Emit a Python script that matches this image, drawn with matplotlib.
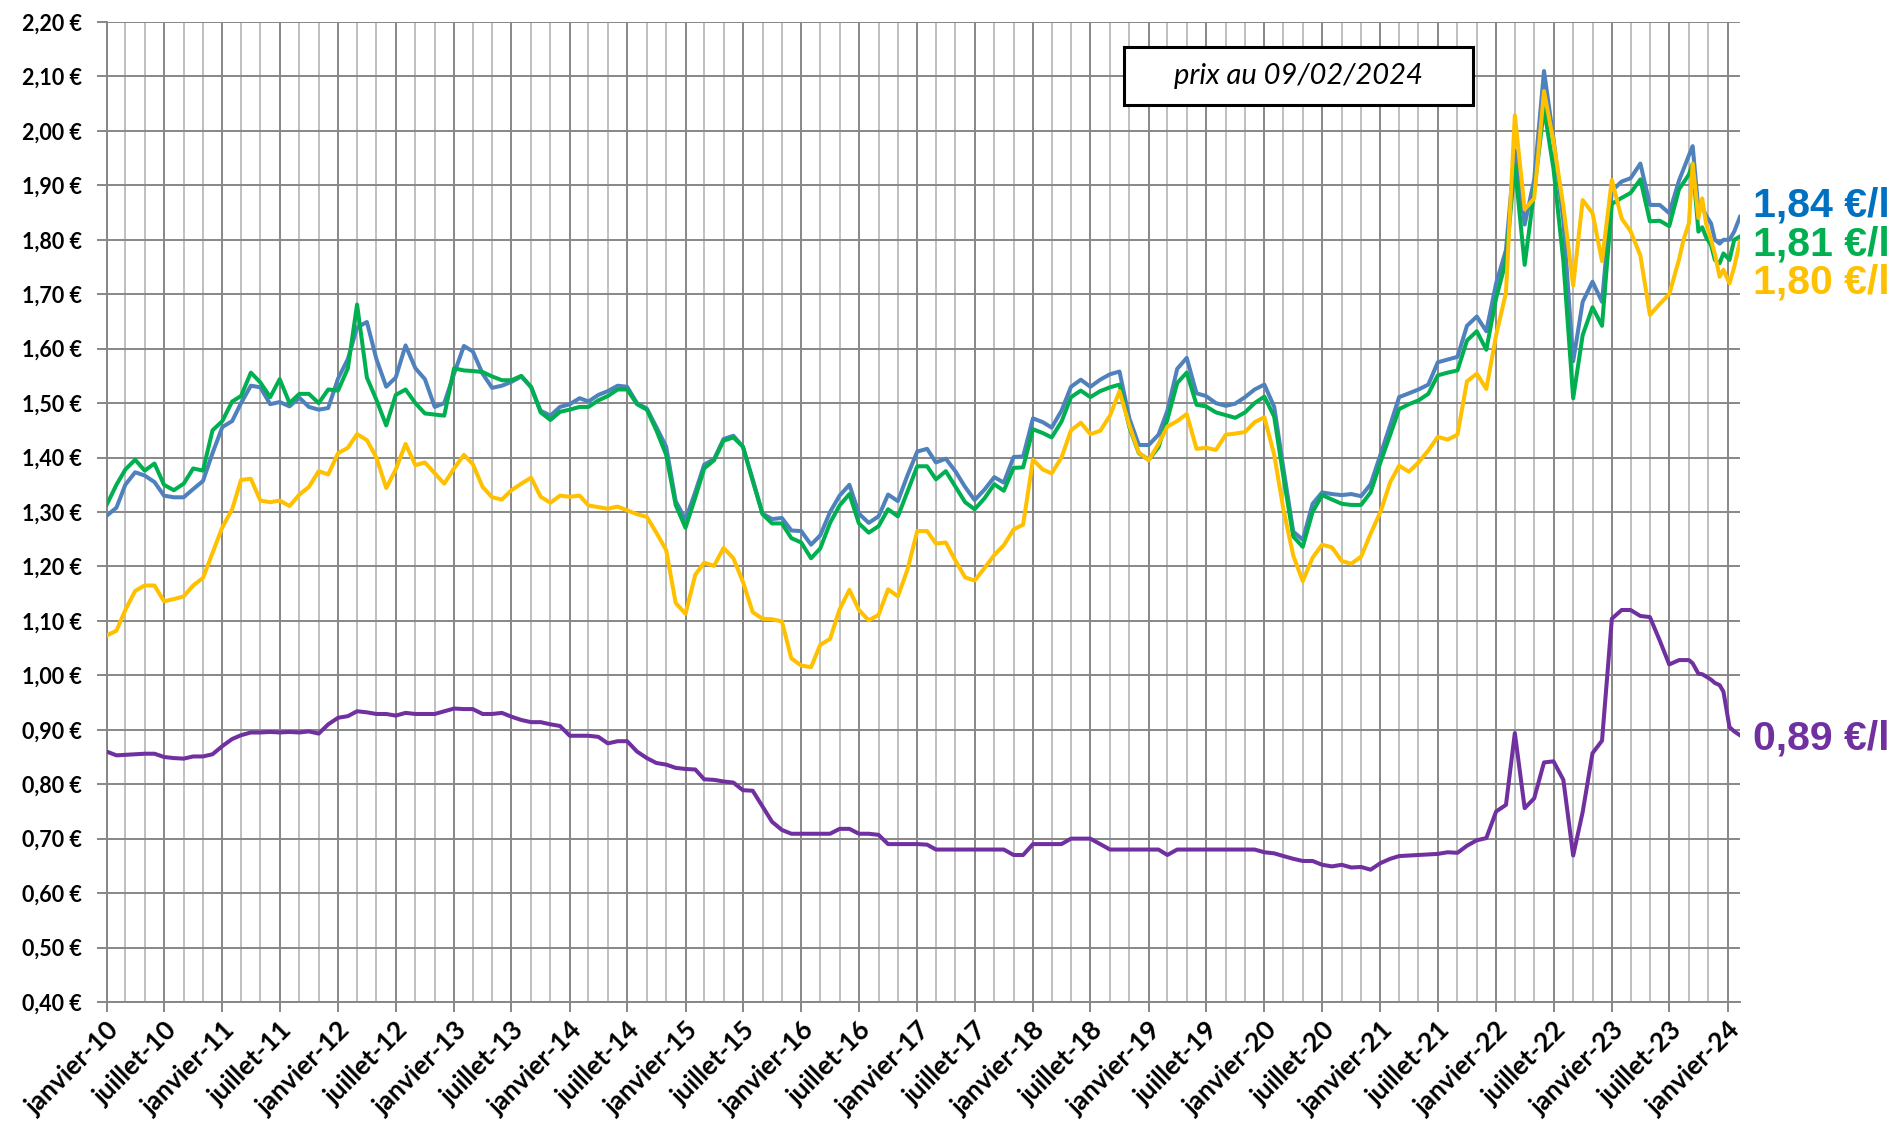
import matplotlib
matplotlib.use('Agg')
import matplotlib.pyplot as plt
import matplotlib.dates as mdates
import matplotlib.ticker as mticker
from matplotlib.patches import Rectangle
import numpy as np
import pandas as pd

# monthly prices, janvier 2010 -> aout 2023
sp98 = [1.293, 1.308, 1.35, 1.373, 1.367, 1.355, 1.33, 1.327, 1.327, 1.342, 1.357, 1.408,
        1.456, 1.467, 1.50, 1.532, 1.529, 1.498, 1.502, 1.494, 1.51, 1.493, 1.488, 1.491,
        1.545, 1.581, 1.639, 1.649, 1.581, 1.53, 1.547, 1.606, 1.564, 1.544, 1.493, 1.50,
        1.554, 1.605, 1.595, 1.554, 1.528, 1.532, 1.539, 1.549, 1.529, 1.486, 1.477, 1.493,
        1.498, 1.509, 1.503, 1.515, 1.522, 1.532, 1.53, 1.50, 1.49, 1.456, 1.42, 1.32,
        1.286, 1.337, 1.387, 1.397, 1.434, 1.44, 1.42, 1.36, 1.297, 1.287, 1.289, 1.266,
        1.265, 1.24, 1.257, 1.30, 1.33, 1.35, 1.297, 1.28, 1.292, 1.332, 1.32, 1.367,
        1.411, 1.416, 1.391, 1.398, 1.375, 1.346, 1.322, 1.341, 1.364, 1.354, 1.401, 1.402,
        1.472, 1.465, 1.455, 1.486, 1.53, 1.543, 1.53, 1.543, 1.553, 1.558, 1.472, 1.423,
        1.423, 1.442, 1.486, 1.563, 1.583, 1.518, 1.513, 1.50, 1.495, 1.499, 1.511, 1.525,
        1.534, 1.493, 1.38, 1.264, 1.249, 1.315, 1.336, 1.333, 1.331, 1.333, 1.329, 1.351,
        1.405, 1.46, 1.511, 1.518, 1.525, 1.534, 1.575, 1.58, 1.585, 1.642, 1.659, 1.632,
        1.72, 1.781, 1.964, 1.828, 1.91, 2.11, 1.985, 1.835, 1.577, 1.686, 1.723, 1.686,
        1.89, 1.907, 1.913, 1.94, 1.864, 1.864, 1.849, 1.909]
sp95 = [1.313, 1.35, 1.378, 1.396, 1.376, 1.389, 1.35, 1.34, 1.352, 1.38, 1.376, 1.45,
        1.467, 1.503, 1.513, 1.556, 1.538, 1.511, 1.544, 1.50, 1.517, 1.517, 1.50, 1.525,
        1.523, 1.564, 1.681, 1.547, 1.506, 1.459, 1.515, 1.525, 1.50, 1.481, 1.479, 1.477,
        1.564, 1.56, 1.559, 1.557, 1.549, 1.542, 1.542, 1.55, 1.53, 1.483, 1.469, 1.484,
        1.488, 1.493, 1.493, 1.505, 1.513, 1.525, 1.525, 1.498, 1.488, 1.45, 1.405, 1.313,
        1.271, 1.327, 1.38, 1.395, 1.431, 1.437, 1.42, 1.357, 1.296, 1.279, 1.279, 1.252,
        1.244, 1.215, 1.233, 1.28, 1.312, 1.333, 1.279, 1.262, 1.274, 1.305, 1.292, 1.337,
        1.384, 1.384, 1.36, 1.375, 1.347, 1.318, 1.305, 1.325, 1.351, 1.339, 1.381, 1.382,
        1.452, 1.445, 1.437, 1.466, 1.511, 1.523, 1.511, 1.522, 1.529, 1.534, 1.456, 1.408,
        1.396, 1.419, 1.47, 1.537, 1.556, 1.497, 1.494, 1.483, 1.478, 1.473, 1.483, 1.50,
        1.512, 1.475, 1.365, 1.255, 1.236, 1.30, 1.331, 1.323, 1.315, 1.313, 1.313, 1.336,
        1.391, 1.442, 1.489, 1.498, 1.505, 1.517, 1.551, 1.556, 1.56, 1.615, 1.632, 1.598,
        1.693, 1.761, 1.937, 1.754, 1.889, 2.042, 1.93, 1.761, 1.509, 1.625, 1.676, 1.642,
        1.866, 1.877, 1.886, 1.911, 1.834, 1.835, 1.825, 1.893]
gazole = [1.073, 1.082, 1.12, 1.155, 1.165, 1.165, 1.136, 1.14, 1.145, 1.165, 1.179, 1.225,
          1.272, 1.305, 1.359, 1.361, 1.321, 1.318, 1.321, 1.311, 1.332, 1.346, 1.375, 1.369,
          1.408, 1.418, 1.443, 1.432, 1.40, 1.344, 1.378, 1.425, 1.386, 1.391, 1.371, 1.352,
          1.38, 1.405, 1.388, 1.346, 1.327, 1.323, 1.34, 1.352, 1.363, 1.328, 1.317, 1.33,
          1.328, 1.33, 1.312, 1.309, 1.306, 1.31, 1.303, 1.296, 1.291, 1.262, 1.23, 1.133,
          1.113, 1.185, 1.207, 1.201, 1.234, 1.215, 1.172, 1.116, 1.104, 1.103, 1.099, 1.031,
          1.018, 1.015, 1.056, 1.067, 1.121, 1.157, 1.12, 1.101, 1.111, 1.158, 1.145, 1.194,
          1.265, 1.265, 1.242, 1.244, 1.211, 1.18, 1.174, 1.197, 1.221, 1.239, 1.268, 1.277,
          1.396, 1.378, 1.371, 1.40, 1.45, 1.464, 1.443, 1.449, 1.477, 1.522, 1.459, 1.409,
          1.395, 1.425, 1.457, 1.467, 1.48, 1.416, 1.418, 1.414, 1.442, 1.444, 1.447, 1.465,
          1.474, 1.405, 1.305, 1.22, 1.173, 1.216, 1.24, 1.235, 1.21, 1.205, 1.218, 1.26,
          1.30, 1.355, 1.385, 1.374, 1.391, 1.413, 1.438, 1.433, 1.442, 1.54, 1.554, 1.526,
          1.625, 1.703, 2.029, 1.856, 1.876, 2.073, 1.98, 1.862, 1.716, 1.873, 1.849, 1.761,
          1.91, 1.839, 1.816, 1.771, 1.662, 1.682, 1.70, 1.764]
gpl = [0.86, 0.853, 0.854, 0.855, 0.856, 0.856, 0.85, 0.848, 0.847, 0.851, 0.851, 0.855,
       0.87, 0.883, 0.89, 0.895, 0.895, 0.896, 0.895, 0.896, 0.895, 0.897, 0.893, 0.91,
       0.922, 0.925, 0.934, 0.932, 0.929, 0.929, 0.926, 0.931, 0.929, 0.929, 0.929, 0.934,
       0.939, 0.938, 0.938, 0.929, 0.929, 0.931, 0.924, 0.918, 0.914, 0.914, 0.91, 0.907,
       0.889, 0.889, 0.889, 0.887, 0.875, 0.879, 0.879, 0.86, 0.848, 0.839, 0.836, 0.83,
       0.828, 0.827, 0.809, 0.808, 0.805, 0.803, 0.789, 0.788, 0.759, 0.731, 0.716, 0.709,
       0.709, 0.709, 0.709, 0.709, 0.718, 0.718, 0.709, 0.709, 0.707, 0.69, 0.69, 0.69,
       0.69, 0.689, 0.68, 0.68, 0.68, 0.68, 0.68, 0.68, 0.68, 0.68, 0.67, 0.67,
       0.69, 0.69, 0.69, 0.69, 0.70, 0.70, 0.70, 0.69, 0.68, 0.68, 0.68, 0.68,
       0.68, 0.68, 0.67, 0.68, 0.68, 0.68, 0.68, 0.68, 0.68, 0.68, 0.68, 0.68,
       0.675, 0.673, 0.668, 0.663, 0.659, 0.659, 0.652, 0.649, 0.652, 0.647, 0.648, 0.643,
       0.655, 0.663, 0.668, 0.669, 0.67, 0.671, 0.672, 0.675, 0.674, 0.687, 0.697, 0.701,
       0.75, 0.762, 0.894, 0.756, 0.774, 0.84, 0.842, 0.808, 0.669, 0.749, 0.857, 0.88,
       1.104, 1.12, 1.12, 1.109, 1.107, 1.064, 1.02, 1.028]

# relevés plus fréquents à partir de mi-aout 2023
tail_dates = ['2023-08-15', '2023-09-01', '2023-09-13', '2023-10-01', '2023-10-13',
              '2023-10-25', '2023-11-10', '2023-11-22', '2023-12-07', '2023-12-19',
              '2024-01-07', '2024-01-22', '2024-02-09']
tail_sp98 = [1.93, 1.955, 1.972, 1.855, 1.86, 1.845, 1.83, 1.80, 1.793, 1.80, 1.80, 1.815, 1.842]
tail_sp95 = [1.905, 1.92, 1.94, 1.815, 1.823, 1.805, 1.79, 1.763, 1.757, 1.775, 1.763, 1.80, 1.806]
tail_gazole = [1.80, 1.83, 1.94, 1.84, 1.876, 1.83, 1.80, 1.774, 1.732, 1.745, 1.72, 1.75, 1.797]
tail_gpl = [1.028, 1.028, 1.022, 1.003, 1.002, 0.998, 0.992, 0.986, 0.982, 0.97, 0.905, 0.897, 0.89]

end_labels = ['1,84 €/l', '1,81 €/l', '1,80 €/l', '0,89 €/l']
colors = ['#4F81BD', '#00B050', '#FFC000', '#7030A0']
label_colors = ['#0070C0', '#00B050', '#FFC000', '#7030A0']

dates = list(pd.date_range('2010-01-01', periods=len(sp98), freq='MS')) + list(pd.to_datetime(tail_dates))

fig = plt.figure(figsize=(18.97, 11.35), dpi=100)
ax = fig.add_axes([0.0562, 0.1172, 0.861, 0.8634])

series = [sp98 + tail_sp98, sp95 + tail_sp95, gazole + tail_gazole, gpl + tail_gpl]
for vals, c in zip(series, colors):
    ax.plot(dates, vals, color=c, lw=2.9, zorder=3)

ax.set_xlim(pd.Timestamp('2010-01-01'), pd.Timestamp('2024-02-09'))
ax.set_ylim(0.40, 2.20)

ax.xaxis.set_major_locator(mdates.MonthLocator(bymonth=[1, 7]))
ax.xaxis.set_minor_locator(mdates.MonthLocator(bymonth=[3, 5, 9, 11]))
mois = {1: 'janvier', 7: 'juillet'}
ax.xaxis.set_major_formatter(mticker.FuncFormatter(
    lambda v, p: '{}-{:02d}'.format(mois[mdates.num2date(v).month], mdates.num2date(v).year % 100)))
ax.yaxis.set_major_locator(mticker.MultipleLocator(0.10))
ax.yaxis.set_major_formatter(mticker.FuncFormatter(lambda v, p: '{:.2f} €'.format(v).replace('.', ',')))

ax.grid(which='major', axis='both', color='#878787', lw=1.4)
ax.grid(which='minor', axis='x', color='#BFBFBF', lw=1.4)
ax.set_axisbelow(True)

for s in ['top', 'right']:
    ax.spines[s].set_visible(False)
for s in ['left', 'bottom']:
    ax.spines[s].set_color('#878787')
    ax.spines[s].set_linewidth(1.4)

ax.tick_params(axis='x', which='major', length=7, width=1.4, color='#878787', pad=4)
ax.tick_params(axis='x', which='minor', length=0)
ax.tick_params(axis='y', length=7, width=1.4, color='#878787', pad=11)
for lab in ax.get_yticklabels():
    lab.set_fontfamily('Lato')
    lab.set_fontweight('bold')
    lab.set_fontsize(15.5)
for lab in ax.get_xticklabels():
    lab.set_fontfamily('Lato')
    lab.set_fontweight('bold')
    lab.set_fontsize(19)
    lab.set_rotation(45)
    lab.set_ha('right')
    lab.set_rotation_mode('anchor')

# encadré date
W, H = 1897, 1135
fig.patches.append(Rectangle((1124 / W, 1 - 105 / H), 349 / W, 58 / H, transform=fig.transFigure,
                             facecolor='white', edgecolor='black', lw=2.2, zorder=5))
fig.text(1298 / W, 1 - 76 / H, 'prix au 09/02/2024', fontfamily='Lato', fontstyle='italic',
         fontsize=21, ha='center', va='center', zorder=6)

# étiquettes de fin
label_y = [206, 245, 283, 738]
for txt, c, y in zip(end_labels, label_colors, label_y):
    fig.text(1753 / W, 1 - y / H, txt, color=c, fontfamily='Liberation Sans', fontweight='bold',
             fontsize=29.5, ha='left', va='center')

fig.savefig('out.png', dpi=100)
